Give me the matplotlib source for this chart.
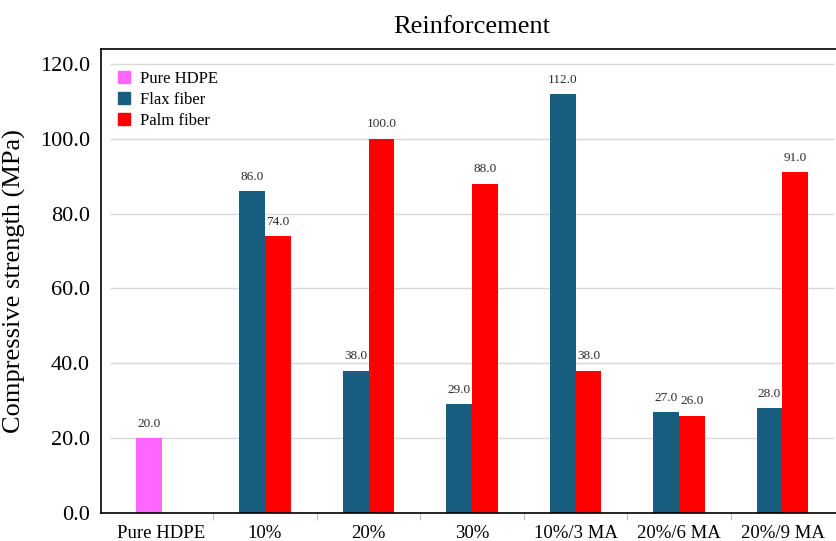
import numpy as np
import matplotlib
matplotlib.use("Agg")
import matplotlib.pyplot as plt
from matplotlib.patches import Patch

# ---------------------------------------------------------------------------
#  Data
# ---------------------------------------------------------------------------
categories = ["Pure HDPE", "10%", "20%", "30%", "10%/3 MA", "20%/6 MA", "20%/9 MA"]
pure_hdpe = [20.0]
flax_fiber = [86.0, 38.0, 29.0, 112.0, 27.0, 28.0]
palm_fiber = [74.0, 100.0, 88.0, 38.0, 26.0, 91.0]
y_ticks = [0, 20, 40, 60, 80, 100, 120]

plt.rcParams["font.family"] = ["Liberation Serif", "DejaVu Serif"]

PINK = "#FF66FF"
FLAX = "#185E80"
PALM = "#FF0000"
width = 0.25

fig = plt.figure(figsize=(8.36, 5.41), dpi=100)
ax = fig.add_axes([0.1208, 0.0518, 0.8792, 0.8576])

x = np.arange(len(categories))
x_fib = x[1:]

# gridlines only over the category span
for t in y_ticks[1:]:
    ax.hlines(t, -0.5, len(categories) - 0.5, color="#d9d9d9", lw=1.0, zorder=0)

b0 = ax.bar(x[:1] - width / 2, pure_hdpe, width, color=PINK, zorder=2)
b1 = ax.bar(x_fib - width / 2, flax_fiber, width, color=FLAX, zorder=2)
b2 = ax.bar(x_fib + width / 2, palm_fiber, width, color=PALM, zorder=2)

for bars in (b0, b1, b2):
    ax.bar_label(bars, fmt="%.1f", padding=6, fontsize=9.5, color="#2b2b2b")

ax.set_xlim(-0.585, 6.517)
ax.set_ylim(0, 124)
ax.set_yticks(y_ticks)
ax.set_yticklabels([f"{t:.1f}" for t in y_ticks], fontsize=16)
ax.tick_params(axis="y", length=0, pad=8)

ax.set_xticks(x)
ax.set_xticklabels(categories, fontsize=13.5)
ax.set_xticks(np.arange(len(categories) - 1) + 0.5, minor=True)
ax.tick_params(axis="x", which="major", length=0, pad=9)
ax.tick_params(axis="x", which="minor", length=5, color="#bfbfbf", width=0.8)

ax.set_ylabel("Compressive strength (MPa)", fontsize=19, labelpad=10)
fig.text(0.5646, 0.951, "Reinforcement", fontsize=19, ha="center", va="center")

for side in ("left", "bottom", "top"):
    ax.spines[side].set_color("black")
    ax.spines[side].set_linewidth(1.2)
ax.spines["right"].set_visible(False)

handles = [Patch(color=PINK, label="Pure HDPE"),
           Patch(color=FLAX, label="Flax fiber"),
           Patch(color=PALM, label="Palm fiber")]
ax.legend(handles=handles, loc="upper left", bbox_to_anchor=(0.01, 0.975),
          frameon=False, fontsize=12, handlelength=0.7, handleheight=0.7,
          handletextpad=0.6, labelspacing=0.3, borderaxespad=0.2)

fig.savefig("out.png", dpi=100)
